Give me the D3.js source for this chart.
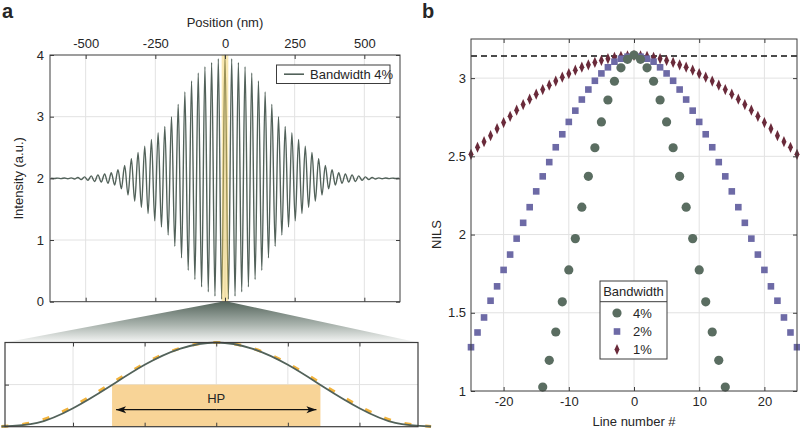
<!DOCTYPE html>
<html><head><meta charset="utf-8">
<script src="https://cdn.jsdelivr.net/npm/d3@7"></script>
<style>
body{margin:0;background:#fff}
text{font-family:"Liberation Sans",Arial,sans-serif;fill:#262626}
</style>
</head><body>
<svg id="c" width="800" height="430"></svg>
<script>
// ---------- DATA ----------
// Panel a: interference intensity (extrema every half fringe, 12 nm step, from -624 to 624 nm)
const positionTicks = [-500, -250, 0, 250, 500];
const intensityTicks = [0, 1, 2, 3, 4];
const extremaStepNm = 12;
const extremaIntensity = [
  2.002, 1.998, 2.004, 1.996, 2.006, 1.994, 2.008, 1.99, 2.014, 1.98, 2.024, 1.968, 2.04, 1.95,
  2.056, 1.94, 2.07, 1.92, 2.09, 1.89, 2.14, 1.83, 2.21, 1.73, 2.32, 1.63, 2.42, 1.53, 2.52, 1.43,
  2.63, 1.31, 2.74, 1.21, 2.84, 1.08, 3.00, 0.90, 3.20, 0.71, 3.40, 0.51, 3.58, 0.36, 3.71, 0.24,
  3.81, 0.16, 3.88, 0.09, 3.94, 0.04,
  4.00,
  0.04, 3.94, 0.09, 3.88, 0.16, 3.81, 0.24, 3.71, 0.36, 3.58, 0.51, 3.40, 0.71, 3.20, 0.90, 3.00,
  1.08, 2.84, 1.21, 2.74, 1.31, 2.63, 1.43, 2.52, 1.53, 2.42, 1.63, 2.32, 1.73, 2.21, 1.83, 2.14,
  1.89, 2.09, 1.92, 2.07, 1.94, 2.056, 1.95, 2.04, 1.968, 2.024, 1.98, 2.014, 1.99, 2.008, 1.994,
  2.006, 1.996, 2.004, 1.998, 2.002
];
const legendA = ["Bandwidth 4%"];
const highlightNm = [-12, 12];

// Inset: one fringe period
const insetPosNm = [-12, -10, -8, -6, -4, -2, 0, 2, 4, 6, 8, 10, 12];
const insetIntensity = [0.01, 0.18, 0.88, 1.89, 2.94, 3.71, 4.0, 3.71, 2.94, 1.89, 0.88, 0.18, 0.01];
const insetDashedIntensity = [0.01, 0.25, 0.97, 1.98, 3.0, 3.73, 4.0, 3.73, 3.0, 1.98, 0.97, 0.25, 0.01];
const insetGridNm = [-8, -4, 0, 4, 8];
const hpRangeNm = [-5.82, 5.82];

// Panel b: NILS vs line number
const lineNumbers4 = d3.range(-14, 15);
const lineNumbers2 = d3.range(-25, 26);
const lineNumbers1 = d3.range(-25, 26);
const nils4 = [1.025, 1.196, 1.377, 1.57, 1.774, 1.974, 2.175, 2.372, 2.555, 2.72, 2.86, 2.98, 3.066, 3.12,
  3.147, 3.12, 3.066, 2.98, 2.86, 2.72, 2.555, 2.372, 2.175, 1.974, 1.774, 1.57, 1.377, 1.196, 1.025];
const nils2 = [1.28, 1.374, 1.47, 1.577, 1.669, 1.774, 1.872, 1.974, 2.075, 2.175, 2.276, 2.372, 2.463,
  2.558, 2.641, 2.72, 2.792, 2.863, 2.927, 2.983, 3.03, 3.069, 3.105, 3.124, 3.137, 3.147, 3.137, 3.124,
  3.105, 3.069, 3.03, 2.983, 2.927, 2.863, 2.792, 2.72, 2.641, 2.558, 2.463, 2.372, 2.276, 2.175, 2.075,
  1.974, 1.872, 1.774, 1.669, 1.577, 1.47, 1.374, 1.28];
const nils1 = [2.513, 2.558, 2.594, 2.632, 2.677, 2.716, 2.756, 2.795, 2.831, 2.865, 2.897, 2.927, 2.955,
  2.981, 3.006, 3.028, 3.051, 3.07, 3.085, 3.1, 3.113, 3.124, 3.132, 3.139, 3.143, 3.145, 3.143, 3.139,
  3.132, 3.124, 3.113, 3.1, 3.085, 3.07, 3.051, 3.028, 3.006, 2.981, 2.955, 2.927, 2.897, 2.865, 2.831,
  2.795, 2.756, 2.716, 2.677, 2.632, 2.594, 2.558, 2.513];
const nilsLimit = 3.1416;
const lineTicks = [-20, -10, 0, 10, 20];
const nilsTicks = [1, 1.5, 2, 2.5, 3];
const legendB = ["4%", "2%", "1%"];

// ---------- STYLE ----------
const cLine = "#52625a", cFrame = "#3c3c3c", cGrid = "#e2e2e2";
const c4 = "#5a6d61", c2 = "#6d6aa6", c1 = "#6a2a3a";
const fmt = d => String(d);

const svg = d3.select("#c");
const defs = svg.append("defs");

function gridAndFrame(g, x, y, xt, yt) {
  const [x0, x1] = x.range(), [y0, y1] = y.range();
  g.append("g").selectAll("line").data(xt).join("line")
    .attr("x1", d => x(d)).attr("x2", d => x(d)).attr("y1", y0).attr("y2", y1)
    .attr("stroke", cGrid).attr("stroke-width", 1);
  g.append("g").selectAll("line").data(yt).join("line")
    .attr("y1", d => y(d)).attr("y2", d => y(d)).attr("x1", x0).attr("x2", x1)
    .attr("stroke", cGrid).attr("stroke-width", 1);
}
function styleAxis(sel) {
  sel.select(".domain").remove();
  sel.selectAll(".tick line").attr("stroke", cFrame);
  sel.selectAll("text").attr("font-size", 13).attr("fill", "#262626")
    .style("font-family", '"Liberation Sans",Arial,sans-serif');
}
function frameRect(g, x, y) {
  const [x0, x1] = x.range(), [y0, y1] = y.range();
  g.append("rect").attr("x", Math.min(x0, x1)).attr("y", Math.min(y0, y1))
    .attr("width", Math.abs(x1 - x0)).attr("height", Math.abs(y1 - y0))
    .attr("fill", "none").attr("stroke", cFrame).attr("stroke-width", 1);
}

// ---------- PANEL A (top) ----------
const xA = d3.scaleLinear().domain([-628, 628]).range([50, 400]);
const yA = d3.scaleLinear().domain([0, 4]).range([301.7, 55]);
const gA = svg.append("g");
gridAndFrame(gA, xA, yA, positionTicks, intensityTicks.slice(1, -1));

const extremaData = extremaIntensity.map((v, i) => ({ x: (i - (extremaIntensity.length - 1) / 2) * extremaStepNm, y: v }));
gA.append("path").datum(extremaData)
  .attr("d", d3.line().x(d => xA(d.x)).y(d => yA(d.y)).curve(d3.curveMonotoneX))
  .attr("fill", "none").attr("stroke", cLine).attr("stroke-width", 1.4);

// highlighted fringe
gA.append("rect").attr("x", xA(highlightNm[0])).attr("width", xA(highlightNm[1]) - xA(highlightNm[0]))
  .attr("y", yA(4)).attr("height", yA(0) - yA(4)).attr("fill", "#f2cc55").attr("opacity", 0.45);

gA.append("g").attr("transform", `translate(0,${yA(4)})`)
  .call(d3.axisTop(xA).tickValues(positionTicks).tickFormat(fmt).tickSizeInner(-4).tickSizeOuter(0).tickPadding(7)).call(styleAxis);
gA.append("g").attr("transform", `translate(0,${yA(0)})`)
  .call(d3.axisBottom(xA).tickValues(positionTicks).tickSizeInner(-4).tickSizeOuter(0).tickFormat("")).call(styleAxis);
gA.append("g").attr("transform", `translate(${xA.range()[0]},0)`)
  .call(d3.axisLeft(yA).tickValues(intensityTicks).tickFormat(fmt).tickSizeInner(-4).tickSizeOuter(0).tickPadding(6)).call(styleAxis);
gA.append("g").attr("transform", `translate(${xA.range()[1]},0)`)
  .call(d3.axisRight(yA).tickValues(intensityTicks).tickSizeInner(-4).tickSizeOuter(0).tickFormat("")).call(styleAxis);
frameRect(gA, xA, yA);

gA.append("text").attr("x", (xA.range()[0] + xA.range()[1]) / 2).attr("y", 27).attr("text-anchor", "middle")
  .attr("font-size", 13).text("Position (nm)");
gA.append("text").attr("transform", `translate(23,${(yA(0) + yA(4)) / 2}) rotate(-90)`).attr("text-anchor", "middle")
  .attr("font-size", 13).text("Intensity (a.u.)");

// legend a
const lgA = gA.append("g");
lgA.append("rect").attr("x", 276.5).attr("y", 65).attr("width", 113.5).attr("height", 18.5)
  .attr("fill", "#fff").attr("stroke", cFrame).attr("stroke-width", 1);
lgA.append("line").attr("x1", 284).attr("x2", 304).attr("y1", 74.2).attr("y2", 74.2)
  .attr("stroke", cLine).attr("stroke-width", 1.6);
lgA.append("text").attr("x", 310).attr("y", 78.8).attr("font-size", 13).text(legendA[0]);

svg.append("text").attr("x", 2).attr("y", 18).attr("font-size", 20).attr("font-weight", "bold").text("a");

// ---------- CONE + INSET ----------
const xI = d3.scaleLinear().domain([-11.8, 11.27]).range([5, 418]);
const yI = d3.scaleLinear().domain([0, 4]).range([426.7, 342.5]);

const grad = defs.append("linearGradient").attr("id", "cone").attr("x1", 0).attr("x2", 0).attr("y1", 0).attr("y2", 1);
grad.append("stop").attr("offset", 0).attr("stop-color", "#55655c");
grad.append("stop").attr("offset", 0.55).attr("stop-color", "#a7b1ab");
grad.append("stop").attr("offset", 1).attr("stop-color", "#f6f7f6");
svg.append("path")
  .attr("d", `M${xA(highlightNm[0])},${yA(0)} L${xA(highlightNm[1])},${yA(0)} L${xI.range()[1]},${yI(4)} L${xI.range()[0]},${yI(4)} Z`)
  .attr("fill", "url(#cone)");

const gI = svg.append("g");
gI.append("rect").attr("x", 5).attr("y", yI(4)).attr("width", 413).attr("height", yI(0) - yI(4)).attr("fill", "#fff");
gridAndFrame(gI, xI, yI, insetGridNm, [2]);
gI.append("rect").attr("x", xI(hpRangeNm[0])).attr("width", xI(hpRangeNm[1]) - xI(hpRangeNm[0]))
  .attr("y", yI(2)).attr("height", yI(0) - yI(2)).attr("fill", "#f8d497");
const insetData = insetPosNm.map((p, i) => ({ x: p, y: insetIntensity[i] }));
const insetDash = insetPosNm.map((p, i) => ({ x: p, y: insetDashedIntensity[i] }));
const lineI = d3.line().x(d => xI(d.x)).y(d => yI(d.y)).curve(d3.curveNatural);
gI.append("path").datum(insetDash).attr("d", lineI).attr("fill", "none")
  .attr("stroke", "#f2b33c").attr("stroke-width", 3).attr("stroke-dasharray", "7,14");
gI.append("path").datum(insetData).attr("d", lineI).attr("fill", "none")
  .attr("stroke", cLine).attr("stroke-width", 1.8);
gI.append("g").attr("transform", `translate(${xI.range()[0]},0)`)
  .call(d3.axisLeft(yI).tickValues([2]).tickSizeInner(-4).tickSizeOuter(0).tickFormat("")).call(styleAxis);
gI.append("g").attr("transform", `translate(0,${yI(4)})`)
  .call(d3.axisTop(xI).tickValues(insetGridNm).tickSizeInner(-4).tickSizeOuter(0).tickFormat("")).call(styleAxis);
gI.append("g").attr("transform", `translate(0,${yI(0)})`)
  .call(d3.axisBottom(xI).tickValues(insetGridNm).tickSizeInner(-4).tickSizeOuter(0).tickFormat("")).call(styleAxis);
gI.append("rect").attr("x", 5).attr("y", yI(4)).attr("width", 413).attr("height", yI(0) - yI(4))
  .attr("fill", "none").attr("stroke", cFrame).attr("stroke-width", 1.2);

// HP arrow
const arrowM = (id, d) => defs.append("marker").attr("id", id).attr("viewBox", "0 0 10 10").attr("refX", 10).attr("refY", 5)
  .attr("markerWidth", 10).attr("markerHeight", 10).attr("markerUnits", "userSpaceOnUse").attr("orient", "auto")
  .append("path").attr("d", d).attr("fill", "#111");
arrowM("ah", "M0,1.5 L10,5 L0,8.5 L2.5,5 Z");
const arrowY = (yI(0) + yI(2)) / 2 + 4;
gI.append("line").attr("x1", xI(0)).attr("x2", xI(hpRangeNm[1]) - 4).attr("y1", arrowY).attr("y2", arrowY)
  .attr("stroke", "#111").attr("stroke-width", 1.2).attr("marker-end", "url(#ah)");
gI.append("line").attr("x1", xI(0)).attr("x2", xI(hpRangeNm[0]) + 4).attr("y1", arrowY).attr("y2", arrowY)
  .attr("stroke", "#111").attr("stroke-width", 1.2).attr("marker-end", "url(#ah)");
gI.append("text").attr("x", xI(0)).attr("y", 402.5).attr("text-anchor", "middle").attr("font-size", 13).text("HP");

// ---------- PANEL B ----------
const xB = d3.scaleLinear().domain([-25, 25]).range([471, 797]);
const yB = d3.scaleLinear().domain([1, 3.25]).range([391, 39]);
const gB = svg.append("g");
gridAndFrame(gB, xB, yB, lineTicks, nilsTicks.slice(1));

gB.append("line").attr("x1", xB(-25)).attr("x2", xB(25)).attr("y1", yB(nilsLimit)).attr("y2", yB(nilsLimit))
  .attr("stroke", "#111").attr("stroke-width", 1.4).attr("stroke-dasharray", "6,4");

const diamond = d3.symbol().type(d3.symbolDiamond).size(30);
gB.append("g").selectAll("path").data(lineNumbers1.map((n, i) => [n, nils1[i]])).join("path")
  .attr("d", diamond).attr("transform", d => `translate(${xB(d[0])},${yB(d[1])}) scale(0.85,1.1)`).attr("fill", c1);
gB.append("g").selectAll("rect").data(lineNumbers2.map((n, i) => [n, nils2[i]])).join("rect")
  .attr("x", d => xB(d[0]) - 3.3).attr("y", d => yB(d[1]) - 3.3).attr("width", 6.6).attr("height", 6.6).attr("fill", c2);
gB.append("g").selectAll("circle").data(lineNumbers4.map((n, i) => [n, nils4[i]])).join("circle")
  .attr("cx", d => xB(d[0])).attr("cy", d => yB(d[1])).attr("r", 4.6).attr("fill", c4);

gB.append("g").attr("transform", `translate(0,${yB.range()[0]})`)
  .call(d3.axisBottom(xB).tickValues(lineTicks).tickFormat(fmt).tickSizeInner(-4).tickSizeOuter(0).tickPadding(6)).call(styleAxis);
gB.append("g").attr("transform", `translate(0,${yB.range()[1]})`)
  .call(d3.axisTop(xB).tickValues(lineTicks).tickSizeInner(-4).tickSizeOuter(0).tickFormat("")).call(styleAxis);
gB.append("g").attr("transform", `translate(${xB.range()[0]},0)`)
  .call(d3.axisLeft(yB).tickValues(nilsTicks).tickFormat(fmt).tickSizeInner(-4).tickSizeOuter(0).tickPadding(5)).call(styleAxis);
gB.append("g").attr("transform", `translate(${xB.range()[1]},0)`)
  .call(d3.axisRight(yB).tickValues(nilsTicks).tickSizeInner(-4).tickSizeOuter(0).tickFormat("")).call(styleAxis);
frameRect(gB, xB, yB);

gB.append("text").attr("x", xB(0)).attr("y", 426).attr("text-anchor", "middle").attr("font-size", 13).text("Line number #");
gB.append("text").attr("transform", `translate(441,${yB(2)}) rotate(-90)`).attr("text-anchor", "middle")
  .attr("font-size", 13).text("NILS");
svg.append("text").attr("x", 422).attr("y", 18).attr("font-size", 20).attr("font-weight", "bold").text("b");

// legend b
const lgB = gB.append("g");
lgB.append("rect").attr("x", 600).attr("y", 281).attr("width", 67).attr("height", 78)
  .attr("fill", "#fff").attr("stroke", cFrame).attr("stroke-width", 1);
lgB.append("line").attr("x1", 600).attr("x2", 667).attr("y1", 301.7).attr("y2", 301.7).attr("stroke", cFrame);
lgB.append("text").attr("x", 633.5).attr("y", 296).attr("text-anchor", "middle").attr("font-size", 13).text("Bandwidth");
const legY = [313, 331.5, 349.5];
lgB.append("circle").attr("cx", 617).attr("cy", legY[0]).attr("r", 4.6).attr("fill", c4);
lgB.append("rect").attr("x", 617 - 3.3).attr("y", legY[1] - 3.3).attr("width", 6.6).attr("height", 6.6).attr("fill", c2);
lgB.append("path").attr("d", diamond).attr("transform", `translate(617,${legY[2]}) scale(0.85,1.1)`).attr("fill", c1);
legendB.forEach((t, i) => lgB.append("text").attr("x", 633).attr("y", legY[i] + 4.6).attr("font-size", 13).text(t));
</script>
</body></html>
